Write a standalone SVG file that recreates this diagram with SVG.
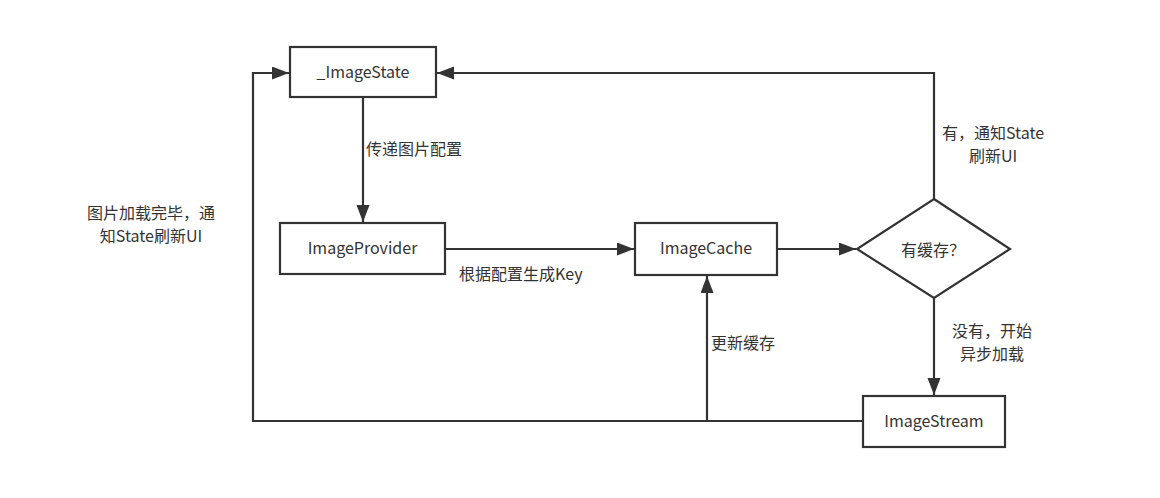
<svg xmlns="http://www.w3.org/2000/svg" width="1160" height="498" viewBox="0 0 1160 498">
<style>
.box{fill:#fff;stroke:#333;stroke-width:2.2}
.t{font-family:"Noto Sans CJK SC","Noto Sans",sans-serif;font-size:16px;fill:#333}
.c{stroke:#333;stroke-width:2.2;fill:none}
</style>
<defs>
<marker id="ah" markerUnits="userSpaceOnUse" markerWidth="18" markerHeight="14" refX="17" refY="6.5" orient="auto">
<path d="M0,0 L17,6.5 L0,13 z" fill="#333"/>
</marker>
</defs>
<rect width="1160" height="498" fill="#fff"/>
<g id="connectors">
<path class="c" d="M363,97 L363,222" marker-end="url(#ah)"/>
<path class="c" d="M445,249 L634,249" marker-end="url(#ah)"/>
<path class="c" d="M777,249 L856,249" marker-end="url(#ah)"/>
<path class="c" d="M934,199 L934,73 L437,73" marker-end="url(#ah)"/>
<path class="c" d="M934,298 L934,395" marker-end="url(#ah)"/>
<path class="c" d="M863,421 L253,421 L253,73 L289,73" marker-end="url(#ah)"/>
<path class="c" d="M707,421 L707,276" marker-end="url(#ah)"/>
<text class="t" x="366" y="155">传递图片配置</text>
<text class="t" x="459" y="280">根据配置生成Key</text>
<text class="t" x="711" y="349">更新缓存</text>
<text class="t" text-anchor="middle" x="151" y="219">图片加载完毕，通</text>
<text class="t" text-anchor="middle" x="151" y="242">知State刷新UI</text>
<text class="t" text-anchor="middle" x="993" y="139">有，通知State</text>
<text class="t" text-anchor="middle" x="993" y="162">刷新UI</text>
<text class="t" text-anchor="middle" x="992" y="337">没有，开始</text>
<text class="t" text-anchor="middle" x="992" y="360">异步加载</text>
</g>
<g id="imagestate">
<rect class="box" x="290" y="47" width="146" height="50"/>
<text class="t" text-anchor="middle" x="363" y="78">_ImageState</text>
</g>
<g id="imageprovider">
<rect class="box" x="280" y="223" width="165" height="51"/>
<text class="t" text-anchor="middle" x="362.5" y="254">ImageProvider</text>
</g>
<g id="imagecache">
<rect class="box" x="635" y="223" width="142" height="52"/>
<text class="t" text-anchor="middle" x="706" y="254">ImageCache</text>
</g>
<g id="hascache">
<polygon class="box" points="934,199 1010,249 934,298 857,249"/>
<text class="t" text-anchor="middle" x="933" y="256">有缓存？</text>
</g>
<g id="imagestream">
<rect class="box" x="863" y="396" width="142" height="51"/>
<text class="t" text-anchor="middle" x="934" y="427">ImageStream</text>
</g>
</svg>
